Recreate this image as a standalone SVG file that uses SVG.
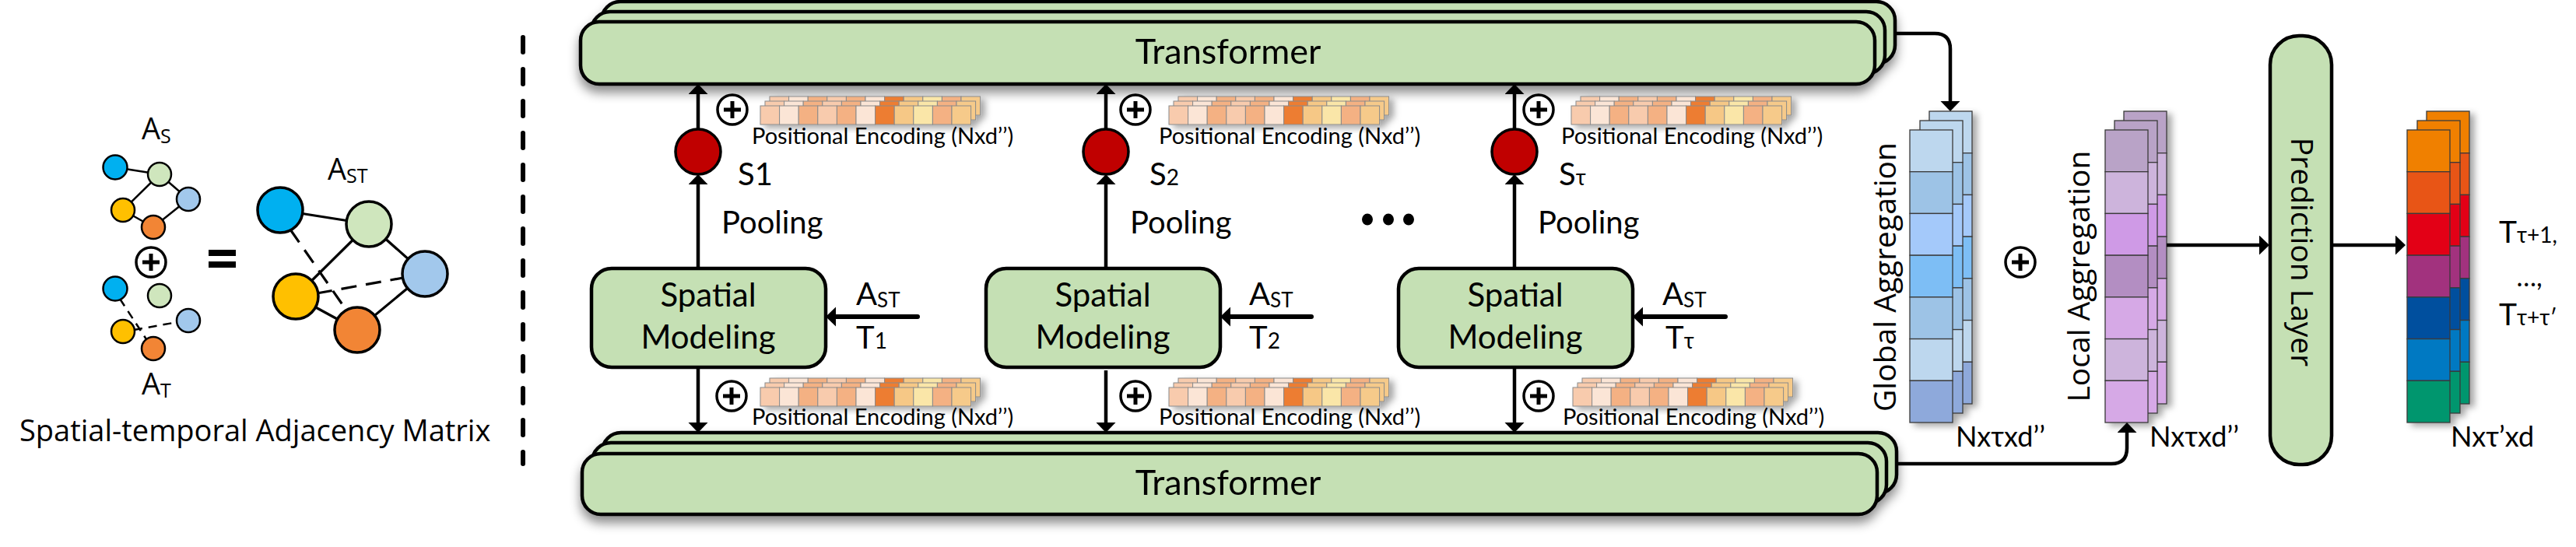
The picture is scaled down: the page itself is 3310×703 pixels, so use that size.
<svg xmlns="http://www.w3.org/2000/svg" xmlns:xlink="http://www.w3.org/1999/xlink" width="3310" height="703" viewBox="0 0 3310 703">
<style>
.box{fill:#C5E0B4;stroke:#000;stroke-width:4.5}
.cal{font-family:Lato,Carlito,"Liberation Sans",sans-serif;fill:#000}
.seg{font-family:"Open Sans","Noto Sans",sans-serif;fill:#000}
.ln{stroke:#000;stroke-width:4.5;fill:none}
.ln6{stroke:#000;stroke-width:6;fill:none;stroke-linecap:round}
.ed{stroke:#000;stroke-width:2.5;fill:none}
.edd{stroke:#000;stroke-width:2.5;fill:none;stroke-dasharray:11 8}
.bed{stroke:#000;stroke-width:3.2;fill:none}
.bedd{stroke:#000;stroke-width:3.2;fill:none;stroke-dasharray:20 12}
.nd{stroke:#000;stroke-width:2.5}
.bnd{stroke:#000;stroke-width:3.5}
.pc{stroke:#8A8A8A;stroke-width:1}
.sc{stroke:#3A3A3A;stroke-width:1.3}
</style>
<defs>
<filter id="sh1" x="-5%" y="-30%" width="110%" height="180%">
<feDropShadow dx="0" dy="9" stdDeviation="7" flood-color="#000" flood-opacity="0.45"/>
</filter>
<filter id="sh2" x="-20%" y="-20%" width="150%" height="150%">
<feDropShadow dx="6" dy="4" stdDeviation="4" flood-color="#000" flood-opacity="0.35"/>
</filter>
<marker id="ah" markerUnits="userSpaceOnUse" markerWidth="14" markerHeight="26" refX="3" refY="12.5" orient="auto">
<path d="M0,0 L13,12.5 L0,25 z" fill="#000"/>
</marker>
<g id="oplus">
<circle r="19" fill="#fff" stroke="#000" stroke-width="3.5"/>
<path d="M-11,0 H11 M0,-11 V11" stroke="#000" stroke-width="5"/>
</g>
<g id="peRow" class="pc">
<rect x="0" width="24.6" height="24" fill="#F8CBAD"/>
<rect x="24.6" width="24.6" height="24" fill="#FBE5D6"/>
<rect x="49.2" width="24.6" height="24" fill="#F4B183"/>
<rect x="73.8" width="24.6" height="24" fill="#F8CBAD"/>
<rect x="98.4" width="24.6" height="24" fill="#F4B183"/>
<rect x="123" width="24.6" height="24" fill="#FBE5D6"/>
<rect x="147.6" width="24.6" height="24" fill="#ED7D31"/>
<rect x="172.2" width="24.6" height="24" fill="#F6C886"/>
<rect x="196.8" width="24.6" height="24" fill="#FAE6A8"/>
<rect x="221.4" width="24.6" height="24" fill="#F4B183"/>
<rect x="246" width="24.6" height="24" fill="#F6CA8A"/>
</g>
<g id="pe">
<use href="#peRow" x="12" y="-12"/>
<use href="#peRow" x="6" y="-6"/>
<use href="#peRow"/>
</g>
<g id="colG" class="sc">
<rect y="0" width="55" height="53.71" fill="#BDD7EE"/>
<rect y="53.71" width="55" height="53.71" fill="#9DC3E6"/>
<rect y="107.43" width="55" height="53.71" fill="#A4C9FA"/>
<rect y="161.14" width="55" height="53.71" fill="#7DBEF5"/>
<rect y="214.86" width="55" height="53.71" fill="#9DC3E6"/>
<rect y="268.57" width="55" height="53.71" fill="#BDD7EE"/>
<rect y="322.29" width="55" height="53.71" fill="#8EA9DB"/>
</g>
<g id="colL" class="sc">
<rect y="0" width="55" height="53.71" fill="#B9A3C7"/>
<rect y="53.71" width="55" height="53.71" fill="#CDB4DC"/>
<rect y="107.43" width="55" height="53.71" fill="#CF9AE6"/>
<rect y="161.14" width="55" height="53.71" fill="#B38EC2"/>
<rect y="214.86" width="55" height="53.71" fill="#D6A9E6"/>
<rect y="268.57" width="55" height="53.71" fill="#CDB4DC"/>
<rect y="322.29" width="55" height="53.71" fill="#D6A9E6"/>
</g>
<g id="colO" class="sc">
<rect y="0" width="55" height="53.71" fill="#F08000"/>
<rect y="53.71" width="55" height="53.71" fill="#E85412"/>
<rect y="107.43" width="55" height="53.71" fill="#E30613"/>
<rect y="161.14" width="55" height="53.71" fill="#A2307E"/>
<rect y="214.86" width="55" height="53.71" fill="#00509E"/>
<rect y="268.57" width="55" height="53.71" fill="#0479C2"/>
<rect y="322.29" width="55" height="53.71" fill="#00966E"/>
</g>
</defs>
<rect width="3310" height="703" fill="#fff"/>

<!-- Left panel: adjacency matrices -->
<g id="adjacency-panel">
<g id="graph-AS">
<path class="ed" d="M148,215 L205,224 M205,224 L158,270 M205,224 L242,256 M158,270 L197,292 M197,292 L242,256"/>
<circle class="nd" cx="148" cy="215" r="15.5" fill="#00B0F0"/>
<circle class="nd" cx="205" cy="224" r="15" fill="#CFE6BD"/>
<circle class="nd" cx="242" cy="256" r="15" fill="#A2C8EC"/>
<circle class="nd" cx="158" cy="270" r="15" fill="#FFC000"/>
<circle class="nd" cx="197" cy="292" r="15" fill="#F28535"/>
<text class="seg" x="182" y="179" font-size="38">A<tspan font-size="25" dy="5">S</tspan></text>
</g>
<use href="#oplus" x="194" y="337"/>
<g id="graph-AT">
<path class="edd" d="M154,384 L188,436 M172,424 L228,414"/>
<circle class="nd" cx="148" cy="371" r="15.5" fill="#00B0F0"/>
<circle class="nd" cx="205" cy="380" r="15" fill="#CFE6BD"/>
<circle class="nd" cx="242" cy="412" r="15" fill="#A2C8EC"/>
<circle class="nd" cx="158" cy="426" r="15" fill="#FFC000"/>
<circle class="nd" cx="197" cy="448" r="15" fill="#F28535"/>
<text class="seg" x="182" y="507" font-size="38">A<tspan font-size="25" dy="4">T</tspan></text>
</g>
<rect x="268" y="321" width="35" height="8" fill="#000"/>
<rect x="268" y="336" width="35" height="8" fill="#000"/>
<g id="graph-AST">
<path class="bed" d="M360,270 L474,288 M474,288 L380,381 M474,288 L546,352 M380,381 L459,424 M459,424 L546,352"/>
<path class="bedd" d="M373,295 L446,400 M407,377 L518,357"/>
<circle class="bnd" cx="360" cy="270" r="29" fill="#00B0F0"/>
<circle class="bnd" cx="474" cy="288" r="29" fill="#CFE6BD"/>
<circle class="bnd" cx="546" cy="352" r="29" fill="#A2C8EC"/>
<circle class="bnd" cx="380" cy="381" r="29" fill="#FFC000"/>
<circle class="bnd" cx="459" cy="424" r="29" fill="#F28535"/>
<text class="seg" x="421" y="231" font-size="38">A<tspan font-size="25" dy="4">ST</tspan></text>
</g>
<text class="seg" x="25" y="567" font-size="38">Spatial-temporal Adjacency Matrix</text>
</g>
<line x1="672" y1="48" x2="672" y2="596" stroke="#000" stroke-width="6" stroke-linecap="round" stroke-dasharray="19 22"/>

<!-- Transformers -->
<g id="transformer-top" filter="url(#sh1)">
<rect class="box" x="773" y="2" width="1662" height="80" rx="24"/>
<rect class="box" x="760" y="15" width="1662" height="80" rx="24"/>
<rect class="box" x="746" y="28" width="1663" height="80" rx="24"/>
<text class="cal" x="1578" y="82" font-size="45" text-anchor="middle">Transformer</text>
</g>
<g id="transformer-bottom" filter="url(#sh1)">
<rect class="box" x="774" y="556" width="1663" height="78" rx="24"/>
<rect class="box" x="761" y="569" width="1663" height="78" rx="24"/>
<rect class="box" x="748" y="583" width="1664" height="78" rx="24"/>
<text class="cal" x="1578" y="636" font-size="45" text-anchor="middle">Transformer</text>
</g>

<!-- Spatial modeling nodes -->
<g id="spatial-1">
<rect class="box" x="760" y="345" width="301" height="127" rx="26"/>
<text class="cal" x="910" y="394" font-size="42" text-anchor="middle">Spatial</text>
<text class="cal" x="910" y="448" font-size="42" text-anchor="middle">Modeling</text>
</g>
<g id="spatial-2">
<rect class="box" x="1267" y="345" width="301" height="127" rx="26"/>
<text class="cal" x="1417" y="394" font-size="42" text-anchor="middle">Spatial</text>
<text class="cal" x="1417" y="448" font-size="42" text-anchor="middle">Modeling</text>
</g>
<g id="spatial-3">
<rect class="box" x="1797" y="345" width="301" height="127" rx="26"/>
<text class="cal" x="1947" y="394" font-size="42" text-anchor="middle">Spatial</text>
<text class="cal" x="1947" y="448" font-size="42" text-anchor="middle">Modeling</text>
</g>

<!-- Pooling nodes -->
<g id="pool-1">
<circle cx="897" cy="195" r="29" fill="#C00000" stroke="#000" stroke-width="3.5"/>
<text class="cal" x="948" y="238" font-size="40">S1</text>
<text class="cal" x="927" y="300" font-size="40">Pooling</text>
</g>
<g id="pool-2">
<circle cx="1421" cy="195" r="29" fill="#C00000" stroke="#000" stroke-width="3.5"/>
<text class="cal" x="1477" y="238" font-size="40">S<tspan font-size="28">2</tspan></text>
<text class="cal" x="1452" y="300" font-size="40">Pooling</text>
</g>
<g id="pool-3">
<circle cx="1946" cy="195" r="29" fill="#C00000" stroke="#000" stroke-width="3.5"/>
<text class="cal" x="2003" y="238" font-size="40">S<tspan font-size="28">τ</tspan></text>
<text class="cal" x="1976" y="300" font-size="40">Pooling</text>
</g>
<g id="ellipsis">
<ellipse cx="1757" cy="282" rx="7" ry="7.5"/>
<ellipse cx="1784" cy="282" rx="7" ry="7.5"/>
<ellipse cx="1810" cy="282" rx="7" ry="7.5"/>
</g>

<!-- Positional encodings -->
<g id="pe-top-1"><use href="#oplus" x="941" y="141"/><use href="#pe" x="977" y="136" filter="url(#sh2)"/><text class="cal" x="966" y="185" font-size="29">Positional Encoding (Nxd’’)</text></g>
<g id="pe-top-2"><use href="#oplus" x="1459" y="141"/><use href="#pe" x="1502" y="136" filter="url(#sh2)"/><text class="cal" x="1489" y="185" font-size="29">Positional Encoding (Nxd’’)</text></g>
<g id="pe-top-3"><use href="#oplus" x="1977" y="141"/><use href="#pe" x="2019" y="136" filter="url(#sh2)"/><text class="cal" x="2006" y="185" font-size="29">Positional Encoding (Nxd’’)</text></g>
<g id="pe-bot-1"><use href="#oplus" x="940" y="509"/><use href="#pe" x="977" y="498" filter="url(#sh2)"/><text class="cal" x="966" y="546" font-size="29">Positional Encoding (Nxd’’)</text></g>
<g id="pe-bot-2"><use href="#oplus" x="1459" y="509"/><use href="#pe" x="1502" y="498" filter="url(#sh2)"/><text class="cal" x="1489" y="546" font-size="29">Positional Encoding (Nxd’’)</text></g>
<g id="pe-bot-3"><use href="#oplus" x="1977" y="509"/><use href="#pe" x="2021" y="498" filter="url(#sh2)"/><text class="cal" x="2008" y="546" font-size="29">Positional Encoding (Nxd’’)</text></g>

<!-- Input labels -->
<g id="input-1"><text class="cal" x="1100" y="392" font-size="40">A<tspan font-size="26" dy="3">ST</tspan></text><text class="cal" x="1100" y="448" font-size="40">T<tspan font-size="28">1</tspan></text></g>
<g id="input-2"><text class="cal" x="1605" y="392" font-size="40">A<tspan font-size="26" dy="3">ST</tspan></text><text class="cal" x="1605" y="448" font-size="40">T<tspan font-size="28">2</tspan></text></g>
<g id="input-3"><text class="cal" x="2136" y="392" font-size="40">A<tspan font-size="26" dy="3">ST</tspan></text><text class="cal" x="2140" y="448" font-size="40">T<tspan font-size="28">τ</tspan></text></g>

<!-- Aggregation stacks -->
<g id="global-aggregation">
<g filter="url(#sh2)">
<use href="#colG" x="2479" y="143"/>
<use href="#colG" x="2467" y="155"/>
<use href="#colG" x="2454" y="167"/>
</g>
<text class="seg" transform="translate(2436,356) rotate(-90)" font-size="39" text-anchor="middle">Global Aggregation</text>
<text class="cal" x="2513" y="574" font-size="36">Nxτxd’’</text>
</g>
<use href="#oplus" x="2596" y="337"/>
<g id="local-aggregation">
<g filter="url(#sh2)">
<use href="#colL" x="2729" y="143"/>
<use href="#colL" x="2717" y="155"/>
<use href="#colL" x="2705" y="167"/>
</g>
<text class="seg" transform="translate(2685,355) rotate(-90)" font-size="39" text-anchor="middle">Local Aggregation</text>
<text class="cal" x="2762" y="574" font-size="36">Nxτxd’’</text>
</g>
<g id="prediction-layer">
<rect class="box" x="2917" y="46" width="79" height="551" rx="37" stroke-width="5"/>
<text class="seg" transform="translate(2944,324) rotate(90)" font-size="39" text-anchor="middle">Prediction Layer</text>
</g>
<g id="output">
<g filter="url(#sh2)">
<use href="#colO" x="3118" y="143"/>
<use href="#colO" x="3106" y="155"/>
<use href="#colO" x="3093" y="167"/>
</g>
<text class="cal" x="3149" y="574" font-size="36">Nxτ’xd</text>
<text class="cal" x="3211" y="312" font-size="39">T<tspan font-size="28">τ+1,</tspan></text>
<text class="cal" x="3250" y="368" font-size="34" text-anchor="middle">…,</text>
<text class="cal" x="3211" y="418" font-size="39">T<tspan font-size="28">τ+τ′</tspan></text>
</g>

<!-- Connectors -->
<g id="connectors">
<line class="ln" x1="897" y1="345" x2="897" y2="234" marker-end="url(#ah)"/>
<line class="ln" x1="897" y1="166" x2="897" y2="118" marker-end="url(#ah)"/>
<line class="ln" x1="897" y1="472" x2="897" y2="546" marker-end="url(#ah)"/>
<line class="ln" x1="1421" y1="345" x2="1421" y2="234" marker-end="url(#ah)"/>
<line class="ln" x1="1421" y1="166" x2="1421" y2="118" marker-end="url(#ah)"/>
<line class="ln" x1="1421" y1="476" x2="1421" y2="546" marker-end="url(#ah)"/>
<line class="ln" x1="1946" y1="345" x2="1946" y2="234" marker-end="url(#ah)"/>
<line class="ln" x1="1946" y1="166" x2="1946" y2="118" marker-end="url(#ah)"/>
<line class="ln" x1="1946" y1="472" x2="1946" y2="546" marker-end="url(#ah)"/>
<line class="ln6" x1="1179" y1="407" x2="1071" y2="407" marker-end="url(#ah)"/>
<line class="ln6" x1="1685" y1="407" x2="1578" y2="407" marker-end="url(#ah)"/>
<line class="ln6" x1="2217" y1="407" x2="2108" y2="407" marker-end="url(#ah)"/>
<path class="ln" d="M2435,43 H2486 Q2506,43 2506,63 V133" marker-end="url(#ah)"/>
<path class="ln" d="M2437,596 H2713 Q2733,596 2733,576 V553" marker-end="url(#ah)"/>
<line class="ln" x1="2784" y1="315" x2="2906" y2="315" marker-end="url(#ah)"/>
<line class="ln" x1="2996" y1="315" x2="3081" y2="315" marker-end="url(#ah)"/>
</g>
</svg>
